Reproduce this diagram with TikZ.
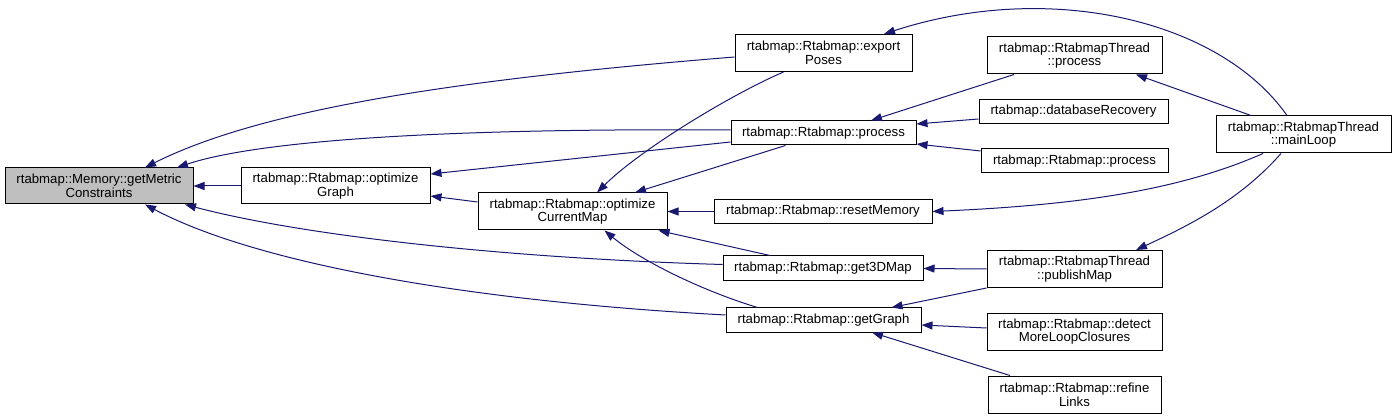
\documentclass[tikz,border=0pt]{standalone}
\usepackage{fontspec}
\setmainfont{Liberation Sans}
\usetikzlibrary{arrows.meta}
\definecolor{edgeblue}{HTML}{191970}
\definecolor{rootgray}{HTML}{BFBFBF}
\tikzset{
  fn/.style={draw=black, line width=1pt, fill=white, inner sep=0pt, align=center,
             font=\fontsize{13.2}{13.8}\selectfont},
  rootfn/.style={fn, fill=rootgray},
  call/.style={draw=edgeblue, line width=1pt, -{Triangle[length=11pt,width=8pt]}}
}
\begin{document}
\begin{tikzpicture}[x=1pt, y=-1pt]
\useasboundingbox (0,0) rectangle (1396,419);
% nodes
\node[rootfn, minimum width=188pt, minimum height=36pt] (gm) at (99,186) {rtabmap::Memory::getMetric\\Constraints};
\node[fn, minimum width=189pt, minimum height=36pt] (og) at (335.5,186) {rtabmap::Rtabmap::optimize\\Graph};
\node[fn, minimum width=189pt, minimum height=37pt] (ocm) at (572.5,211.5) {rtabmap::Rtabmap::optimize\\CurrentMap};
\node[fn, minimum width=177pt, minimum height=37pt] (ep) at (823.5,53) {rtabmap::Rtabmap::export\\Poses};
\node[fn, minimum width=185pt, minimum height=24pt] (rp) at (823.5,133) {rtabmap::Rtabmap::process};
\node[fn, minimum width=218pt, minimum height=24pt] (rm) at (823,211.5) {rtabmap::Rtabmap::resetMemory};
\node[fn, minimum width=200pt, minimum height=25pt] (g3) at (823,268.5) {rtabmap::Rtabmap::get3DMap};
\node[fn, minimum width=195pt, minimum height=24pt] (gg) at (823.5,320) {rtabmap::Rtabmap::getGraph};
\node[fn, minimum width=175pt, minimum height=37pt] (tp) at (1074.5,55.5) {rtabmap::RtabmapThread\\::process};
\node[fn, minimum width=189pt, minimum height=24pt] (dr) at (1073.5,111.5) {rtabmap::databaseRecovery};
\node[fn, minimum width=187pt, minimum height=24pt] (rp2) at (1074.5,161) {rtabmap::Rtabmap::process};
\node[fn, minimum width=175pt, minimum height=37pt] (ml) at (1303.5,134.5) {rtabmap::RtabmapThread\\::mainLoop};
\node[fn, minimum width=175pt, minimum height=37pt] (pm) at (1074.5,269) {rtabmap::RtabmapThread\\::publishMap};
\node[fn, minimum width=175pt, minimum height=37pt] (dm) at (1074.5,331.5) {rtabmap::Rtabmap::detect\\MoreLoopClosures};
\node[fn, minimum width=173pt, minimum height=37pt] (rl) at (1074.5,394.5) {rtabmap::Rtabmap::refine\\Links};
% edges
\draw[call] (og.west) -- (gm.east);
\draw[call] ([yshift=-4pt]ep.west) .. controls (450,80) and (260,110) .. ([xshift=46pt]gm.north);
\draw[call] ([yshift=3pt]rp.west) .. controls (450,128) and (260,140) .. ([xshift=78pt]gm.north);
\draw[call] ([yshift=4pt]g3.west) .. controls (500,258) and (300,235) .. ([xshift=86pt]gm.south);
\draw[call] ([yshift=5pt]gg.west) .. controls (450,300) and (250,260) .. ([xshift=46pt]gm.south);
\draw[call] ([yshift=-9pt]rp.west) -- ([yshift=12pt]og.east);
\draw[call] ([yshift=9.5pt]ocm.west) -- ([yshift=-10pt]og.east);
\draw[call] ([xshift=-40pt]ep.south) .. controls (730,95) and (640,150) .. ([xshift=24.5pt]ocm.north);
\draw[call] ([xshift=-38pt]rp.south) -- ([xshift=62.5pt]ocm.north);
\draw[call] (rm.west) -- (ocm.east);
\draw[call] ([xshift=-53pt]g3.north) -- ([xshift=86pt]ocm.south);
\draw[call] ([xshift=-66pt]gg.north) .. controls (700,290) and (640,260) .. ([xshift=32pt]ocm.south);
\draw[call] ([xshift=-60.5pt]tp.south) -- ([xshift=47.5pt]rp.north);
\draw[call] ([yshift=-7.5pt]dr.west) -- ([yshift=9pt]rp.east);
\draw[call] ([yshift=10pt]rp2.west) -- ([yshift=-11pt]rp.east);
\draw[call] ([xshift=-16.5pt]ml.north) .. controls (1220,20) and (1050,-20) .. ([xshift=60.5pt]ep.north);
\draw[call] ([xshift=-52.5pt]ml.north) -- ([xshift=61.5pt]tp.south);
\draw[call] ([xshift=-40.5pt]ml.south) .. controls (1180,190) and (1080,205) .. (rm.east);
\draw[call] ([xshift=-22.5pt]ml.south) .. controls (1240,200) and (1190,225) .. ([xshift=61.5pt]pm.north);
\draw[call] (pm.west) -- (g3.east);
\draw[call] (pm.south west) -- ([xshift=68pt]gg.north);
\draw[call] ([yshift=3.5pt]dm.west) -- ([yshift=-5pt]gg.east);
\draw[call] ([xshift=-64.5pt]rl.north) -- ([xshift=48.5pt]gg.south);
\end{tikzpicture}
\end{document}
